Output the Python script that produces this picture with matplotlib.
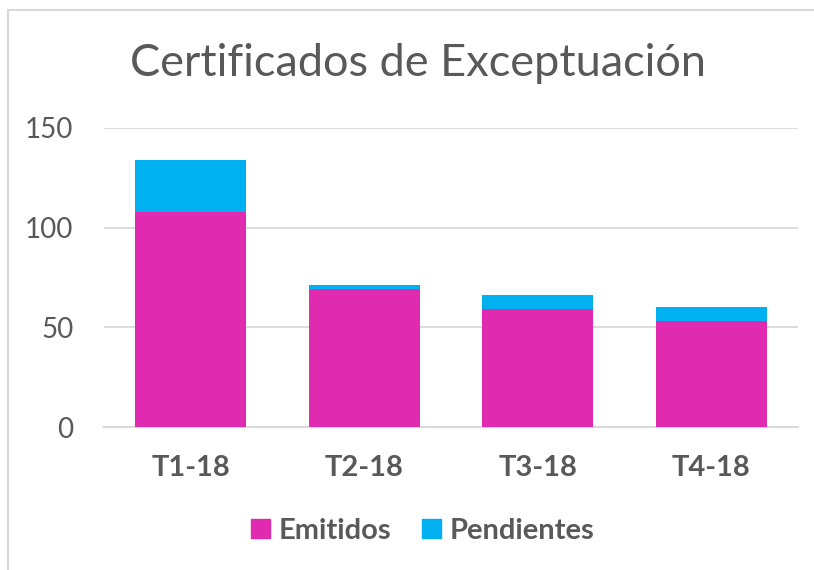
import matplotlib.pyplot as plt
import numpy as np
from matplotlib.lines import Line2D
from matplotlib.patches import Patch

# data
quarters = ["T1-18", "T2-18", "T3-18", "T4-18"]
emitidos = [108, 69, 59, 53]
pendientes = [26, 2, 7, 7]

MAGENTA = "#E02AAF"
CYAN = "#00B0F0"
TEXT = "#595959"
GRID = "#D9D9D9"
FONT = "Lato"

fig = plt.figure(figsize=(8.14, 5.7), dpi=100)
fig.patch.set_facecolor("white")

# outer chart frame (left and top edges visible)
fig.add_artist(Line2D([8 / 814, 8 / 814], [0, 1 - 10 / 570], color=GRID, lw=1.5))
fig.add_artist(Line2D([8 / 814, 1], [1 - 10 / 570, 1 - 10 / 570], color=GRID, lw=1.5))

ax = fig.add_axes([104 / 814, 1 - 427 / 570, 694 / 814, 299 / 570])
x = np.arange(len(quarters))
ax.bar(x, emitidos, width=0.64, color=MAGENTA, zorder=3, label="Emitidos")
ax.bar(x, pendientes, width=0.64, bottom=emitidos, color=CYAN, zorder=3,
       label="Pendientes")

ax.set_xlim(-0.5, len(quarters) - 0.5)
ax.set_ylim(0, 150)
ax.set_yticks([0, 50, 100, 150])
ax.yaxis.grid(True, color=GRID, lw=1.3, zorder=0)
for s in ["top", "right", "left"]:
    ax.spines[s].set_visible(False)
ax.spines["bottom"].set_color(GRID)
ax.spines["bottom"].set_linewidth(1.5)
ax.tick_params(axis="both", length=0)
ax.tick_params(axis="y", pad=22, labelsize=20, labelcolor=TEXT)
ax.tick_params(axis="x", pad=20, labelsize=21, labelcolor=TEXT)
ax.set_xticks(x)
ax.set_xticklabels(quarters, fontweight="bold", family=FONT)
for t in ax.get_yticklabels():
    t.set_family(FONT)

fig.text(418 / 814, 1 - 64 / 570, "Certificados de Exceptuación", ha="center",
         va="center", fontsize=32.5, color=TEXT, family=FONT)

handles = [Patch(color=MAGENTA), Patch(color=CYAN)]
leg = fig.legend(handles, ["Emitidos", "Pendientes"], loc="center",
                 bbox_to_anchor=(423 / 814, 1 - 531 / 570), ncol=2, frameon=False,
                 handlelength=0.65, handleheight=0.65, handletextpad=0.3,
                 columnspacing=1.05, prop={"family": FONT, "weight": "bold", "size": 21})
for t in leg.get_texts():
    t.set_color(TEXT)

fig.savefig("out.png", dpi=100)
